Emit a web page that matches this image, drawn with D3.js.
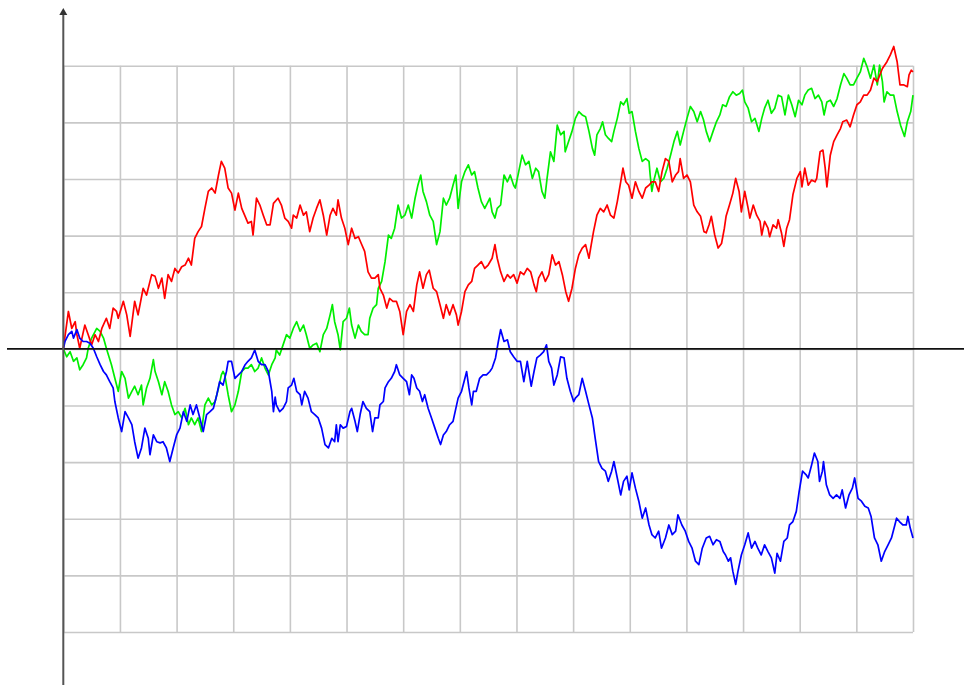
<!DOCTYPE html>
<html><head><meta charset="utf-8">
<script src="https://cdn.jsdelivr.net/npm/d3@7"></script>
<style>html,body{margin:0;padding:0;background:#fff;}svg{display:block;}</style>
</head><body>
<svg id="chart" width="964" height="685"></svg>
<script>
// grid ticks (data units): x every 10 steps, y every 10 units
const xTicks = d3.range(0, 151, 10);
const yTicks = d3.range(-50, 51, 10);

const redPoints = [[0,0],[0.9,6.6],[1.5,3.6],[2.1,4.8],[2.4,2.5],[2.9,0.1],[3.8,4.2],[4.4,2.5],[5.0,0.7],[5.6,2.5],[6.2,1.3],[6.8,3.6],[7.6,5.4],[8.2,3.6],[8.8,7.2],[9.4,6.6],[9.7,5.4],[10.6,8.4],[11.2,6.0],[11.8,2.2],[12.6,8.4],[13.2,6.0],[14.1,10.7],[14.7,9.5],[15.6,13.1],[16.2,12.8],[16.8,10.7],[17.4,12.5],[17.9,8.9],[18.5,13.1],[19.1,11.9],[19.7,14.2],[20.3,13.4],[20.9,14.5],[21.5,14.8],[22.1,16.0],[22.6,14.8],[23.2,19.5],[23.8,20.7],[24.4,21.6],[25.0,24.8],[25.6,27.8],[26.2,28.4],[26.8,27.5],[27.4,30.7],[27.9,33.1],[28.5,31.9],[29.1,28.4],[29.7,27.5],[30.3,24.5],[30.9,27.5],[31.5,24.8],[32.1,23.4],[32.6,22.2],[33.2,22.5],[33.5,20.1],[34.1,26.6],[34.7,25.4],[35.3,23.6],[35.9,21.9],[36.5,21.9],[37.1,25.7],[37.9,26.6],[38.5,25.4],[39.1,23.1],[39.7,22.5],[40.3,21.3],[40.6,23.6],[41.2,23.1],[41.8,25.4],[42.4,23.6],[42.9,24.2],[43.5,20.7],[44.1,23.1],[44.7,24.8],[45.3,26.3],[45.9,23.6],[46.5,20.1],[47.1,23.6],[47.6,24.8],[48.2,23.6],[48.5,26.3],[49.1,23.1],[49.7,21.3],[50.3,18.4],[50.9,21.3],[51.5,19.5],[52.1,19.8],[52.6,18.6],[53.2,17.2],[53.8,13.6],[54.4,12.5],[55.0,12.5],[55.6,13.1],[55.9,10.7],[56.5,9.5],[57.1,7.2],[57.6,8.9],[58.2,8.4],[58.8,8.4],[59.4,6.6],[60.0,2.5],[60.6,6.6],[61.2,7.8],[61.8,6.6],[62.4,11.3],[62.9,13.6],[63.5,10.7],[64.1,13.1],[64.6,13.9],[65.3,10.7],[65.9,10.1],[66.5,7.8],[67.1,5.4],[67.6,7.8],[68.2,6.0],[68.8,7.8],[69.4,6.0],[69.7,4.2],[70.3,6.6],[70.9,10.1],[71.5,11.3],[72.1,11.9],[72.6,14.2],[73.2,14.8],[73.8,15.4],[74.4,14.2],[75.0,14.8],[75.7,16.0],[76.2,18.4],[76.6,16.0],[77.2,13.6],[77.8,11.9],[78.4,13.1],[78.9,12.5],[79.5,13.1],[80.1,11.6],[80.7,13.6],[81.3,13.1],[81.9,14.2],[82.5,13.6],[83.1,11.3],[83.5,10.1],[83.9,12.5],[84.5,13.6],[85.1,11.9],[85.7,13.1],[86.3,16.6],[86.9,14.8],[87.5,15.4],[88.1,13.1],[88.7,10.1],[89.2,8.4],[89.8,10.7],[90.4,14.2],[91.0,16.6],[91.6,17.8],[92.2,18.4],[92.8,16.0],[93.2,18.4],[93.6,20.7],[94.2,23.6],[94.8,24.8],[95.4,24.2],[96.0,25.4],[96.6,23.6],[97.2,23.1],[97.8,26.0],[98.4,29.5],[98.8,31.9],[99.3,29.5],[99.8,28.9],[100.4,26.6],[101.0,29.5],[101.6,27.8],[102.2,26.6],[102.8,28.4],[103.4,28.9],[103.9,29.5],[104.5,29.5],[105.1,27.8],[105.7,31.3],[106.3,33.6],[106.9,33.1],[107.5,29.5],[108.1,30.7],[108.6,31.3],[108.9,33.6],[109.5,30.1],[110.1,30.7],[110.7,29.5],[111.3,25.4],[111.9,24.2],[112.5,23.4],[113.1,20.7],[113.5,20.5],[114.0,21.9],[114.4,23.4],[115.0,20.1],[115.6,17.8],[116.2,18.6],[116.7,21.3],[117.0,23.4],[117.6,25.4],[118.2,27.5],[118.7,30.1],[119.3,27.8],[119.7,24.2],[120.3,27.8],[120.9,24.8],[121.2,23.1],[121.8,25.4],[122.4,23.6],[123.0,22.5],[123.3,20.1],[123.8,22.5],[124.4,21.3],[124.7,19.8],[125.3,21.9],[125.9,21.3],[126.2,22.8],[126.8,20.4],[127.2,18.1],[127.7,21.3],[128.2,22.8],[128.8,27.2],[129.5,30.1],[130.1,31.3],[130.4,28.6],[130.9,31.9],[131.5,28.9],[132.1,29.8],[132.7,29.5],[133.0,30.1],[133.6,34.8],[134.1,35.1],[134.5,31.9],[134.8,28.6],[135.4,34.2],[136.0,36.6],[136.6,37.8],[137.2,38.9],[137.6,40.1],[138.3,40.4],[138.9,39.2],[139.5,41.3],[140.1,43.1],[140.7,43.6],[141.3,44.8],[141.9,44.8],[142.5,45.7],[143.1,47.8],[143.7,47.2],[144.6,49.5],[145.4,50.7],[146.0,51.9],[146.6,53.4],[147.2,50.7],[147.7,46.6],[148.4,46.6],[149.0,46.3],[149.3,48.4],[149.7,49.2],[150.0,48.9]];

const greenPoints = [[0,0],[0.6,-1.4],[1.2,-0.5],[1.8,-2.2],[2.4,-1.6],[2.9,-3.7],[3.5,-2.8],[4.1,-1.6],[4.4,0.1],[5.0,1.9],[5.9,3.6],[6.5,3.1],[7.1,1.9],[7.6,0.1],[8.5,-2.8],[9.1,-5.2],[9.7,-7.5],[10.3,-4.0],[10.9,-5.2],[11.5,-8.7],[12.1,-7.5],[12.6,-6.6],[13.2,-8.1],[13.8,-6.4],[14.1,-9.9],[14.7,-6.9],[15.3,-5.2],[15.9,-1.9],[16.2,-4.0],[16.8,-5.8],[17.4,-8.1],[17.9,-5.8],[18.5,-7.5],[19.1,-9.9],[19.7,-11.6],[20.3,-11.1],[20.9,-12.2],[21.5,-10.5],[22.1,-13.4],[22.6,-12.2],[23.2,-13.4],[23.8,-12.2],[24.4,-14.6],[25.0,-9.9],[25.6,-8.7],[26.2,-9.9],[26.8,-9.3],[27.4,-6.9],[27.9,-4.6],[28.2,-4.0],[28.5,-4.6],[29.1,-8.1],[29.7,-11.1],[30.3,-9.9],[30.9,-7.5],[31.5,-4.0],[32.1,-3.4],[32.6,-3.4],[33.2,-2.8],[33.8,-4.0],[34.4,-3.4],[35.0,-1.6],[35.6,-3.4],[36.2,-4.6],[36.8,-2.8],[37.4,-1.6],[37.6,-0.2],[38.2,-1.1],[38.8,0.7],[39.4,2.5],[40.0,1.9],[40.6,3.6],[41.2,4.8],[41.8,3.1],[42.4,4.2],[42.9,2.5],[43.5,0.1],[44.1,0.7],[44.7,1.0],[45.3,-0.5],[45.9,2.5],[46.5,3.6],[47.1,6.0],[47.5,7.8],[47.9,4.8],[48.5,2.5],[48.9,-0.2],[49.4,4.8],[50.0,5.4],[50.5,7.2],[50.9,4.2],[51.5,1.9],[52.1,4.2],[52.6,3.1],[53.2,2.5],[53.8,2.5],[54.1,5.4],[54.7,7.2],[55.3,7.8],[55.6,10.7],[56.2,11.9],[56.8,15.4],[57.4,20.1],[57.9,19.5],[58.5,21.3],[59.1,25.4],[59.7,23.1],[60.3,23.6],[60.9,25.4],[61.5,23.1],[62.1,26.6],[62.6,28.9],[63.1,30.7],[63.5,27.8],[64.1,26.0],[64.7,23.6],[65.3,22.5],[65.9,18.4],[66.5,20.7],[67.1,26.6],[67.6,25.4],[68.2,26.6],[68.8,28.9],[69.3,30.7],[69.7,24.8],[70.3,29.5],[70.9,31.3],[71.5,32.5],[72.1,30.7],[72.6,31.3],[73.2,28.4],[73.8,26.0],[74.4,24.8],[75.0,26.0],[75.3,26.6],[75.7,24.2],[76.2,23.1],[76.6,24.8],[77.2,25.4],[77.8,30.7],[78.4,29.5],[78.9,30.7],[79.5,28.9],[79.8,28.4],[80.4,31.3],[81.0,34.2],[81.6,32.5],[82.2,33.1],[82.8,30.1],[83.4,31.9],[83.9,31.3],[84.5,27.8],[85.0,26.6],[85.4,30.1],[86.0,34.8],[86.6,33.1],[87.2,39.5],[87.8,37.8],[88.4,38.4],[88.6,34.8],[89.2,36.6],[89.8,38.4],[90.4,40.7],[91.0,41.9],[91.6,41.3],[92.2,41.0],[92.8,38.4],[93.4,35.4],[93.8,34.2],[94.2,37.8],[94.8,38.9],[95.2,40.1],[95.7,37.8],[96.2,37.2],[96.8,36.6],[97.2,38.4],[97.8,40.7],[98.4,43.6],[98.9,43.1],[99.5,44.2],[99.9,41.6],[100.4,41.9],[101.0,38.4],[101.6,35.4],[102.2,33.1],[102.8,33.6],[103.4,33.1],[103.6,30.7],[103.9,27.8],[104.2,29.5],[104.8,31.9],[105.4,29.5],[106.0,30.1],[106.6,31.9],[107.2,34.2],[107.8,36.6],[108.4,38.4],[108.9,36.0],[109.5,38.4],[110.1,40.7],[110.7,42.8],[111.3,41.9],[111.9,40.1],[112.5,41.9],[113.0,40.5],[113.5,38.4],[114.1,36.6],[114.7,38.4],[115.3,40.1],[115.9,41.3],[116.4,43.1],[117.0,42.8],[117.6,44.5],[118.2,45.4],[118.8,44.8],[119.4,45.1],[119.9,45.7],[120.3,43.6],[120.9,42.5],[121.5,40.1],[122.1,40.7],[122.8,38.4],[123.3,40.7],[123.8,42.5],[124.4,43.9],[125.0,41.6],[125.6,42.5],[126.2,44.8],[126.8,44.5],[127.4,41.3],[128.0,44.8],[128.6,43.1],[129.2,41.0],[129.8,43.9],[130.4,43.1],[130.9,44.8],[131.5,45.7],[132.1,46.0],[132.7,44.2],[133.3,44.8],[133.9,43.6],[134.3,41.3],[134.8,43.6],[135.4,43.9],[136.0,42.8],[136.6,44.2],[137.2,46.6],[137.8,48.6],[138.3,47.8],[138.9,46.6],[139.5,46.6],[140.1,47.8],[140.7,48.9],[141.3,51.3],[141.9,49.8],[142.5,47.8],[143.1,50.1],[143.7,46.6],[144.1,50.1],[144.6,47.2],[144.9,43.6],[145.4,45.4],[146.0,44.8],[146.6,44.8],[147.2,41.9],[147.8,39.5],[148.5,37.5],[149.0,40.1],[149.6,41.9],[150.0,44.8]];

const bluePoints = [[0,0],[0.3,1.3],[0.9,2.5],[1.5,3.1],[1.8,1.9],[2.4,3.4],[2.9,1.9],[3.5,1.3],[4.1,1.3],[4.7,1.0],[5.3,0.1],[5.9,-1.4],[6.5,-2.8],[7.1,-4.0],[7.6,-4.6],[8.2,-5.8],[8.8,-6.9],[9.1,-9.3],[9.7,-12.2],[10.3,-14.6],[10.9,-11.1],[11.5,-12.2],[12.1,-13.4],[12.6,-16.4],[13.2,-19.3],[13.8,-17.5],[14.4,-14.0],[15.0,-15.8],[15.3,-18.7],[15.9,-15.2],[16.5,-16.4],[17.1,-16.6],[17.6,-16.4],[18.2,-17.5],[18.8,-19.9],[19.4,-17.5],[20.0,-15.2],[20.6,-14.0],[21.2,-11.1],[21.8,-12.8],[22.4,-9.9],[22.9,-11.6],[23.5,-9.9],[24.1,-12.2],[24.7,-14.6],[25.3,-11.6],[25.9,-11.1],[26.5,-10.5],[27.1,-8.1],[27.6,-5.8],[28.2,-6.4],[28.8,-4.0],[29.1,-2.2],[29.7,-2.2],[30.3,-5.2],[30.9,-4.6],[31.5,-4.0],[32.1,-2.8],[32.6,-2.2],[33.2,-1.6],[33.8,-0.2],[34.4,-2.2],[35.0,-2.8],[35.6,-2.8],[36.2,-4.0],[36.8,-7.5],[37.1,-11.1],[37.4,-8.5],[37.6,-9.9],[38.2,-11.1],[38.8,-10.5],[39.4,-9.3],[39.7,-6.9],[40.3,-6.4],[40.7,-5.2],[41.2,-7.5],[41.8,-8.1],[42.1,-9.9],[42.6,-7.5],[43.2,-8.7],[43.8,-11.1],[44.4,-11.6],[45.0,-12.2],[45.6,-14.0],[46.2,-16.9],[46.8,-17.5],[47.4,-15.8],[47.9,-16.4],[48.2,-13.4],[48.5,-16.4],[48.9,-13.4],[49.4,-14.0],[50.0,-13.7],[50.6,-11.1],[50.9,-10.5],[51.5,-12.8],[51.9,-14.6],[52.4,-11.6],[52.9,-9.3],[53.5,-10.5],[54.1,-11.1],[54.6,-14.6],[55.0,-12.2],[55.6,-12.2],[55.9,-9.9],[56.5,-9.3],[56.8,-6.9],[57.4,-5.8],[57.9,-5.2],[58.5,-4.0],[58.8,-2.8],[59.4,-4.6],[60.0,-5.2],[60.6,-5.8],[61.1,-8.1],[61.5,-4.6],[61.9,-5.2],[62.4,-6.9],[62.9,-7.5],[63.4,-9.3],[63.8,-8.1],[64.4,-10.5],[65.0,-12.2],[65.6,-14.0],[66.2,-15.8],[66.6,-16.9],[67.1,-15.2],[67.6,-14.6],[68.2,-13.4],[68.8,-12.8],[69.3,-10.5],[69.7,-8.7],[70.3,-7.5],[70.9,-5.2],[71.2,-4.0],[71.6,-6.9],[72.1,-9.9],[72.4,-7.5],[72.9,-7.5],[73.5,-5.2],[74.1,-4.6],[74.7,-4.6],[75.3,-4.0],[75.7,-3.4],[76.3,-1.6],[76.8,1.3],[77.2,3.4],[77.8,1.3],[78.4,1.6],[78.9,-0.5],[79.5,-1.4],[80.1,-2.2],[80.7,-2.2],[81.3,-5.8],[81.9,-2.2],[82.6,-6.6],[83.1,-4.0],[83.6,-1.6],[84.2,-1.1],[84.8,-0.5],[85.3,0.7],[85.7,-2.2],[86.2,-3.4],[86.6,-6.4],[87.2,-4.6],[87.8,-1.4],[88.4,-1.6],[88.9,-5.2],[89.5,-7.5],[90.1,-9.3],[90.4,-8.7],[91.0,-8.1],[91.6,-5.2],[92.2,-7.5],[92.8,-9.9],[93.4,-12.2],[93.9,-15.8],[94.5,-19.9],[95.1,-21.1],[95.7,-21.6],[96.2,-23.4],[96.8,-21.6],[97.2,-19.9],[97.8,-22.8],[98.4,-25.8],[98.9,-23.4],[99.5,-22.5],[99.9,-24.9],[100.4,-21.9],[101.0,-24.6],[101.6,-26.9],[102.2,-29.9],[102.8,-28.1],[103.4,-31.1],[103.9,-32.8],[104.5,-33.4],[105.1,-32.2],[105.6,-35.2],[106.3,-33.4],[106.9,-31.1],[107.5,-32.8],[108.1,-32.2],[108.5,-29.3],[109.2,-31.1],[109.8,-32.2],[110.4,-34.0],[111.0,-35.2],[111.6,-37.5],[112.2,-38.1],[112.8,-35.2],[113.5,-33.4],[114.1,-33.1],[114.7,-34.6],[115.3,-33.7],[115.9,-34.0],[116.5,-35.8],[116.9,-36.4],[117.4,-37.5],[117.8,-36.9],[118.2,-39.3],[118.7,-41.6],[119.1,-39.3],[119.7,-36.4],[120.3,-34.6],[120.9,-32.5],[121.5,-35.2],[122.1,-34.0],[122.6,-35.2],[123.2,-36.4],[123.8,-34.6],[124.4,-35.8],[125.0,-36.9],[125.6,-39.6],[126.0,-36.1],[126.6,-37.5],[127.2,-34.0],[127.8,-33.4],[128.2,-31.1],[128.8,-30.5],[129.4,-28.7],[129.9,-25.2],[130.5,-21.6],[131.1,-22.2],[131.5,-22.8],[132.1,-20.5],[132.6,-18.4],[133.2,-19.9],[133.5,-23.4],[134.0,-21.6],[134.2,-19.9],[134.7,-24.0],[135.3,-25.8],[135.9,-26.4],[136.5,-25.8],[137.1,-26.4],[137.5,-24.9],[138.1,-28.1],[138.7,-25.8],[139.3,-24.6],[139.7,-22.8],[140.3,-26.4],[140.9,-26.9],[141.5,-27.8],[142.1,-28.1],[142.6,-29.6],[143.2,-33.4],[143.8,-34.6],[144.4,-37.5],[145.0,-35.8],[145.6,-34.6],[146.2,-33.4],[146.8,-31.1],[147.1,-29.9],[147.6,-30.5],[148.2,-31.1],[148.8,-31.1],[149.1,-29.6],[149.5,-31.6],[150.0,-33.4]];

const seriesList = [
  {name: "green", color: "#00ee00", points: greenPoints},
  {name: "red", color: "#ff0000", points: redPoints},
  {name: "blue", color: "#0000ff", points: bluePoints}
];

const svg = d3.select("#chart");
const W = 964, H = 685;
const x = d3.scaleLinear().domain([0, 150]).range([63.3, 913]);
const y = d3.scaleLinear().domain([-50, 50]).range([632, 65.7]);

// vertical grid
svg.append("g")
  .attr("transform", `translate(0,${y(-50)})`)
  .call(d3.axisBottom(x).tickValues(xTicks).tickSize(-(y(-50) - y(50))).tickFormat(""))
  .call(g => g.select(".domain").remove())
  .call(g => g.selectAll(".tick line").attr("stroke", "#c8c8c8").attr("stroke-width", 1.6));

// horizontal grid
svg.append("g")
  .attr("transform", `translate(${x(0)},0)`)
  .call(d3.axisLeft(y).tickValues(yTicks).tickSize(-(x(150) - x(0))).tickFormat(""))
  .call(g => g.select(".domain").remove())
  .call(g => g.selectAll(".tick line").attr("stroke", "#c8c8c8").attr("stroke-width", 1.6));

// series
const line = d3.line().x(d => x(d[0])).y(d => y(d[1]));
svg.append("g").selectAll("path").data(seriesList).join("path")
  .attr("d", d => line(d.points))
  .attr("fill", "none")
  .attr("stroke", d => d.color)
  .attr("stroke-width", 1.7)
  .attr("stroke-linejoin", "round");

// x axis (zero line)
svg.append("line")
  .attr("x1", 7).attr("x2", W)
  .attr("y1", y(0)).attr("y2", y(0))
  .attr("stroke", "#111").attr("stroke-width", 1.8);

// y axis with arrow
svg.append("line")
  .attr("x1", x(0)).attr("x2", x(0))
  .attr("y1", H).attr("y2", 12)
  .attr("stroke", "#555").attr("stroke-width", 2);
svg.append("path")
  .attr("d", `M${x(0)-4},${15} L${x(0)},${8} L${x(0)+4},${15} Z`)
  .attr("fill", "#333");
</script>
</body></html>
